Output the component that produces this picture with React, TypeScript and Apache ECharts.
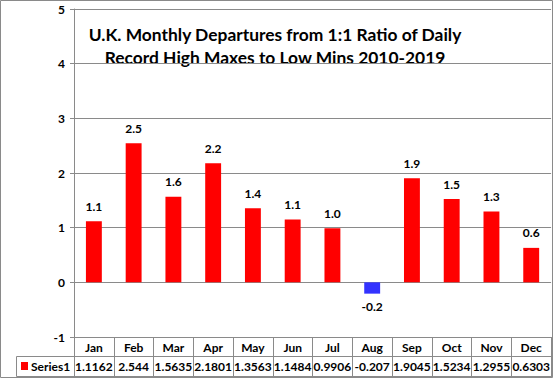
import React, { useEffect, useRef } from "react";
import * as echarts from "echarts";

const months = ["Jan", "Feb", "Mar", "Apr", "May", "Jun", "Jul", "Aug", "Sep", "Oct", "Nov", "Dec"];
const values = [1.1162, 2.544, 1.5635, 2.1801, 1.3563, 1.1484, 0.9906, -0.207, 1.9045, 1.5234, 1.2955, 0.6303];
const seriesName = "Series1";
const titleLines = [
  "U.K. Monthly Departures from 1:1 Ratio of Daily",
  "Record High Maxes to Low Mins 2010-2019",
];
const yMin = -1;
const yMax = 5;
const yStep = 1;

const FONT = "Lato, 'Noto Sans', sans-serif";
const GRAY = "#8a8a8a";

export default function App() {
  const ref = useRef<HTMLDivElement>(null);
  useEffect(() => {
    if (!ref.current) return;
    const chart = echarts.init(ref.current, undefined, { renderer: "svg" });
    const W = 553;
    const H = 378;
    const left = 74;
    const right = 552;
    const bottomY = 337;
    chart.setOption({
      animation: false,
      backgroundColor: "#ffffff",
      grid: { left: left, right: W - right, top: 9, bottom: H - bottomY },
      xAxis: [
        {
          type: "category",
          data: months,
          position: "bottom",
          axisLine: { show: true, onZero: false, lineStyle: { color: GRAY, width: 1 } },
          axisTick: { show: true, length: 39, interval: 0, alignWithLabel: false, lineStyle: { color: GRAY } },
          axisLabel: { interval: 0, margin: 4, color: "#000", fontFamily: FONT, fontWeight: "bold", fontSize: 12 },
          splitLine: { show: false },
        },
        {
          type: "category",
          data: values.map((v) => String(v)),
          position: "bottom",
          offset: 19,
          axisLine: { show: false, onZero: false },
          axisTick: { show: false },
          axisLabel: { interval: 0, margin: 4, color: "#000", fontFamily: FONT, fontWeight: "bold", fontSize: 12 },
        },
      ],
      yAxis: {
        type: "value",
        min: yMin,
        max: yMax,
        interval: yStep,
        axisLine: { show: true, lineStyle: { color: GRAY } },
        axisTick: { show: true, inside: false, length: 4, lineStyle: { color: GRAY } },
        axisLabel: { margin: 9, color: "#000", fontFamily: FONT, fontWeight: "bold", fontSize: 12 },
        splitLine: { show: true, lineStyle: { color: GRAY, width: 1 } },
      },
      series: [
        {
          name: seriesName,
          type: "bar",
          barWidth: "40%",
          data: values.map((v) => ({
            value: v,
            itemStyle: { color: v < 0 ? "#3333ff" : "#ff0000" },
            label: {
              show: true,
              position: v < 0 ? "bottom" : "top",
              distance: v < 0 ? 7 : 9,
              formatter: () => v.toFixed(1),
              color: "#000",
              fontFamily: FONT,
              fontWeight: "bold",
              fontSize: 12,
            },
          })),
        },
      ],
      graphic: [
        {
          type: "rect",
          shape: { x: 0.5, y: 0.5, width: 552, height: 377 },
          style: { fill: "none", stroke: GRAY, lineWidth: 1 },
          silent: true,
        },
        {
          type: "line",
          shape: { x1: 16.5, y1: 356.5, x2: right, y2: 356.5 },
          style: { stroke: GRAY, lineWidth: 1 },
        },
        {
          type: "line",
          shape: { x1: 16.5, y1: 376.5, x2: right, y2: 376.5 },
          style: { stroke: GRAY, lineWidth: 1 },
        },
        {
          type: "line",
          shape: { x1: 16.5, y1: 356.5, x2: 16.5, y2: 376.5 },
          style: { stroke: GRAY, lineWidth: 1 },
        },
        {
          type: "rect",
          shape: { x: 21, y: 362, width: 7, height: 8 },
          style: { fill: "#ff0000" },
        },
        {
          type: "text",
          x: 31,
          y: 366,
          style: {
            text: seriesName,
            fill: "#000",
            font: `bold 12px ${FONT}`,
            textAlign: "left",
            textVerticalAlign: "middle",
          },
        },
        ...titleLines.map((t, i) => ({
          type: "text",
          x: 275,
          y: 34 + i * 23,
          style: {
            text: t,
            fill: "#000",
            font: `bold 17.4px ${FONT}`,
            textAlign: "center",
            textVerticalAlign: "middle",
          },
        })),
      ],
    });
    return () => chart.dispose();
  }, []);
  return <div ref={ref} style={{ position: "fixed", left: 0, top: 0, width: 553, height: 378 }} />;
}
